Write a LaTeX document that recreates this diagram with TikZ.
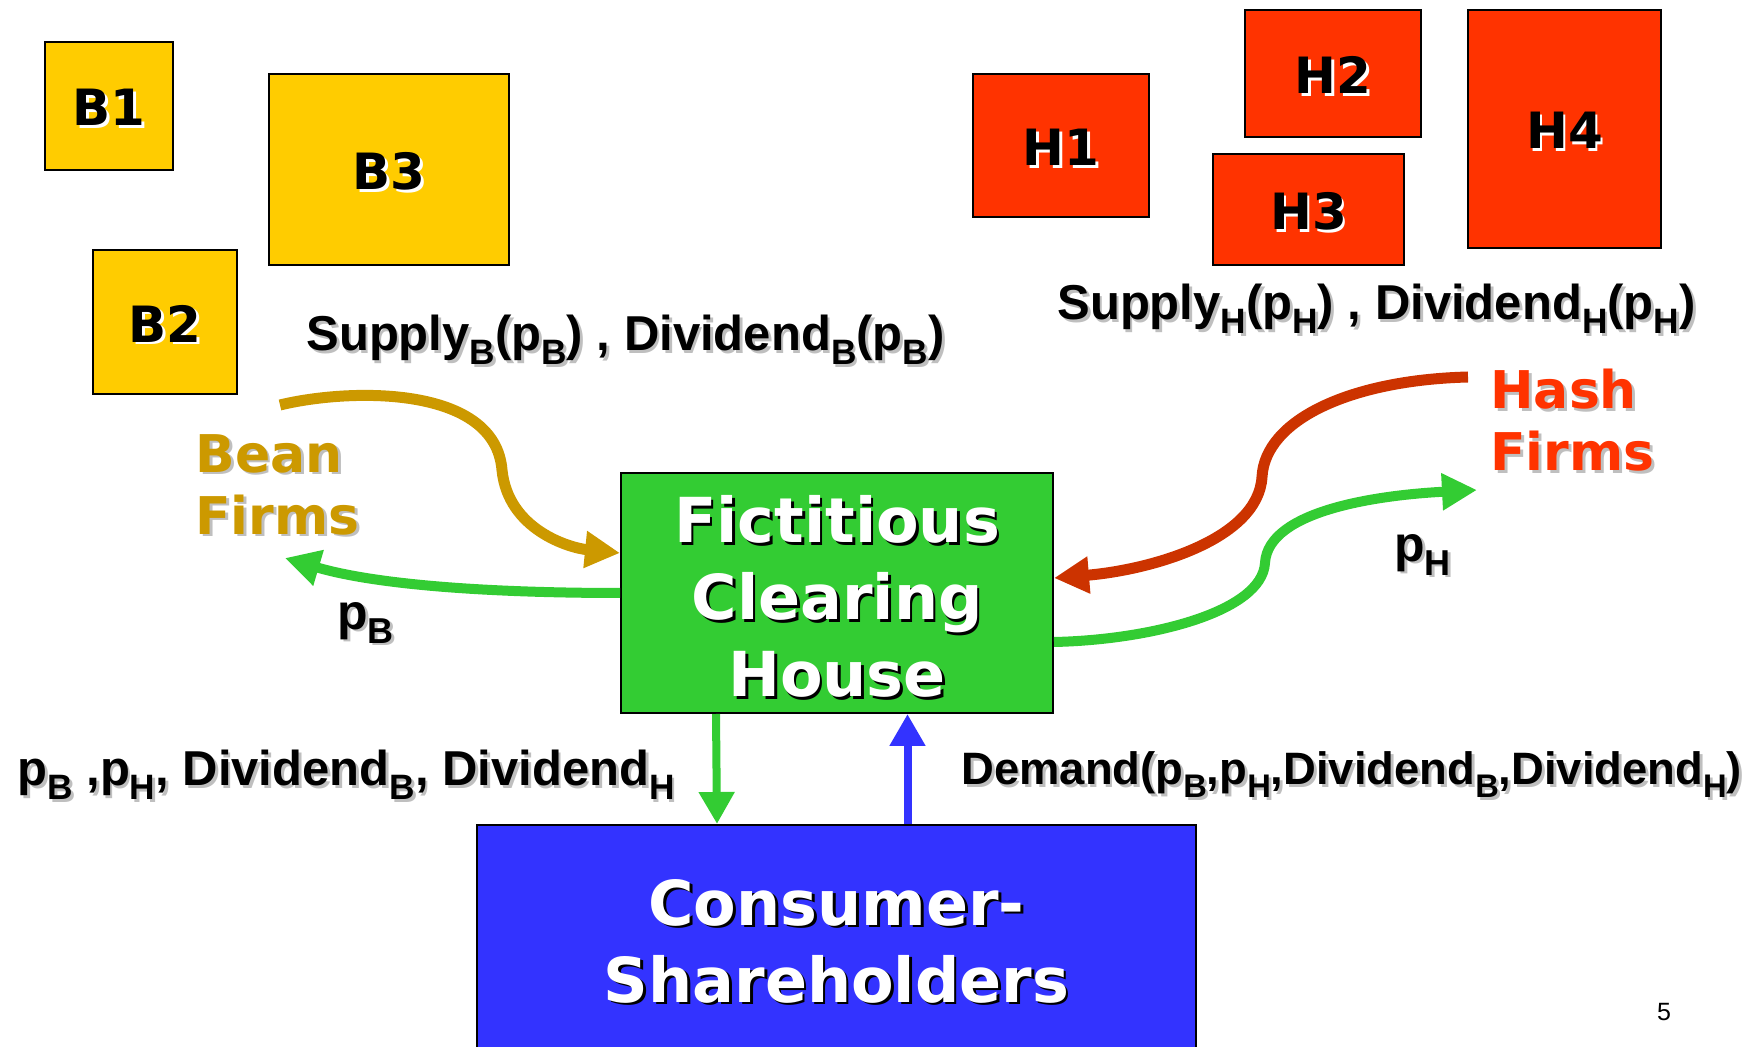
\documentclass[tikz,border=0pt]{standalone}
\usepackage{fontspec}
\usepackage{graphicx}
\setmainfont{DejaVu Sans}
\newfontfamily\labfont{Liberation Sans}
\usetikzlibrary{arrows.meta}

\definecolor{beanbox}{HTML}{FFCC00}
\definecolor{hashbox}{HTML}{FF3300}
\definecolor{beanink}{HTML}{CC9900}
\definecolor{hashink}{HTML}{CC3300}
\definecolor{chgreen}{HTML}{33CC33}
\definecolor{csblue}{HTML}{3333FF}

% text with an offset drop shadow: {text colour}{shadow colour}{text}
\newcommand\shtxt[3]{\leavevmode\rlap{\kern1.4pt\raisebox{-1.4pt}{\textcolor{#2}{#3}}}\textcolor{#1}{#3}}
% lowered, reduced subscript
\newcommand\sbx[1]{\raisebox{-0.28em}{\scalebox{0.72}{#1}}}
% draw content lower without changing the box it reports
\newcommand\dropdown[2]{\raisebox{-#1}[\height][\depth]{#2}}

\tikzset{
  firmbox/.style={draw=black, line width=1pt, inner sep=0pt,
    font=\bfseries\fontsize{25}{30}\selectfont},
  bigbox/.style={draw=black, line width=1pt, inner sep=0pt, align=center,
    font=\bfseries\fontsize{31}{38.5}\selectfont},
  grouplabel/.style={anchor=west, align=left, inner sep=0pt,
    font=\bfseries\fontsize{26}{31}\selectfont},
  formula/.style={anchor=west, inner sep=0pt,
    font=\labfont\bfseries\fontsize{24.5}{27}\selectfont},
  flow/.style={line width=5.5pt, -{Triangle[length=17.5pt,width=17.5pt]}},
  vflow/.style={line width=4pt, -{Triangle[length=16pt,width=17pt]}}
}

\begin{document}
\begin{tikzpicture}[x=0.5pt,y=-0.5pt]
\useasboundingbox (0,0) rectangle (1763,1047);
\clip (0,0) rectangle (1763,1047);

% bean firms
\node[firmbox, fill=beanbox, minimum width=64pt, minimum height=64pt] (b1) at (109,106) {\dropdown{1.5pt}{\shtxt{black}{white}{B1}}};
\node[firmbox, fill=beanbox, minimum width=120pt, minimum height=95.5pt] (b3) at (389,169.5) {\dropdown{1.5pt}{\shtxt{black}{white}{B3}}};
\node[firmbox, fill=beanbox, minimum width=72pt, minimum height=72pt] (b2) at (165,322) {\dropdown{1.5pt}{\shtxt{black}{white}{B2}}};

% hash firms
\node[firmbox, fill=hashbox, minimum width=88pt, minimum height=71.5pt] (h1) at (1061,145.5) {\dropdown{1.5pt}{\shtxt{black}{white}{H1}}};
\node[firmbox, fill=hashbox, minimum width=88pt, minimum height=63.5pt] (h2) at (1333,73.5) {\dropdown{1.5pt}{\shtxt{black}{white}{H2}}};
\node[firmbox, fill=hashbox, minimum width=95.5pt, minimum height=55.5pt] (h3) at (1308.5,209.5) {\dropdown{1.5pt}{\shtxt{black}{white}{H3}}};
\node[firmbox, fill=hashbox, minimum width=96.5pt, minimum height=119pt] (h4) at (1564.5,129) {\dropdown{1.5pt}{\shtxt{black}{white}{H4}}};

% supply and dividend schedules
\node[formula] (supB) at (306,341) {\shtxt{black}{black!25}{Supply\sbx{B}(p\sbx{B}) , Dividend\sbx{B}(p\sbx{B})}};
\node[formula] (supH) at (1057,310) {\shtxt{black}{black!25}{Supply\sbx{H}(p\sbx{H}) , Dividend\sbx{H}(p\sbx{H})}};

% group labels
\node[grouplabel] (bean) at (195,486) {\shtxt{beanink}{black!25}{Bean}\\\shtxt{beanink}{black!25}{Firms}};
\node[grouplabel] (hash) at (1490,422) {\shtxt{hashbox}{black!25}{Hash}\\\shtxt{hashbox}{black!25}{Firms}};

% clearing house and consumers
\node[bigbox, fill=chgreen, minimum width=216pt, minimum height=120pt] (fch) at (837,593)
  {\dropdown{2.5pt}{\shtxt{white}{black}{Fictitious}}\\\dropdown{2.5pt}{\shtxt{white}{black}{Clearing}}\\\dropdown{2.5pt}{\shtxt{white}{black}{House}}};
\node[bigbox, fill=csblue, minimum width=359.5pt, minimum height=117.5pt] (cs) at (836.5,942.5)
  {\shtxt{white}{black}{Consumer-}\\\shtxt{white}{black}{Shareholders}};

% price labels
\node[formula, font=\labfont\bfseries\fontsize{25}{28}\selectfont] (pB) at (337,624) {\shtxt{black}{black!25}{p\sbx{B}}};
\node[formula, font=\labfont\bfseries\fontsize{25}{28}\selectfont] (pH) at (1394,556) {\shtxt{black}{black!25}{p\sbx{H}}};

% signals between clearing house and consumers
\node[formula] (sig) at (17,776) {\shtxt{black}{black!25}{p\sbx{B} ,p\sbx{H}, Dividend\sbx{B}, Dividend\sbx{H}}};
\node[formula, font=\labfont\bfseries\fontsize{22.7}{26}\selectfont] (dem) at (961,776) {\shtxt{black}{black!25}{Demand(p\sbx{B},p\sbx{H},Dividend\sbx{B},Dividend\sbx{H})}};

% page number
\node[anchor=center, inner sep=0pt, font=\labfont\fontsize{12.5}{14}\selectfont] (pg) at (1664,1012) {5};

% anchor points for the flows
\coordinate (beanfrom) at (280,405);
\coordinate (beanto) at ([yshift=20pt]fch.west);
\coordinate (pBfrom) at (fch.west);
\coordinate (pBto) at (285,558);
\coordinate (hashfrom) at (1468,377);
\coordinate (hashto) at ([yshift=7.5pt]fch.east);
\coordinate (pHfrom) at ([yshift=-24.5pt]fch.east);
\coordinate (pHto) at (1477,490);

% supply from bean firms
\draw[flow, beanink] (beanfrom) .. controls (350,388) and (495,385) .. (502,470)
  .. controls (508,530) and (570,548) .. (beanto);
% price to bean firms
\draw[flow, chgreen, line width=5pt] (pBfrom) .. controls (500,593) and (380,586) .. (pBto);
% supply from hash firms
\draw[flow, hashink] (hashfrom) .. controls (1350,380) and (1265,420) .. (1262,477)
  .. controls (1258,540) and (1150,570) .. (hashto);
% price to hash firms
\draw[flow, chgreen, line width=5pt] (pHfrom) .. controls (1150,640) and (1262,612) .. (1265,563)
  .. controls (1268,510) and (1380,495) .. (pHto);

% prices and dividends down, demand up
\draw[vflow, chgreen] ([xshift=-60.5pt]fch.south) -- ([xshift=-60pt]fch.south |- cs.north);
\draw[vflow, csblue] ([xshift=35.5pt]cs.north) -- ([xshift=35.5pt]cs.north |- fch.south);
\end{tikzpicture}
\end{document}
